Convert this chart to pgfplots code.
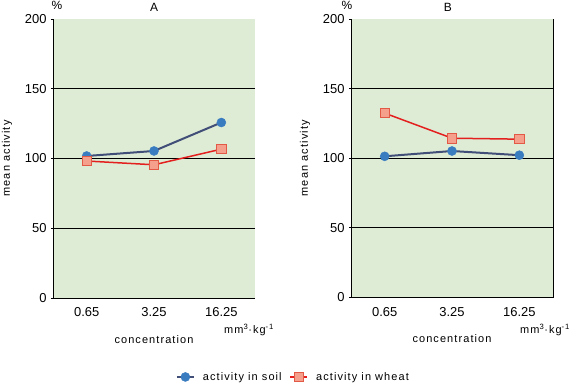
\documentclass[border=0pt]{standalone}
\usepackage{fontspec}
\setmainfont{Liberation Sans}
\newfontfamily\lsp[LetterSpace=10]{Liberation Sans}
\usepackage{pgfplots}
\pgfplotsset{compat=1.18}
\definecolor{bgcol}{RGB}{222,236,214}
\definecolor{soilline}{RGB}{64,78,120}
\definecolor{soilmark}{RGB}{58,124,192}
\definecolor{wheatline}{RGB}{228,32,30}
\definecolor{wheatfill}{RGB}{244,160,140}
\definecolor{wheatdraw}{RGB}{226,90,70}
\pgfplotsset{
  panel/.style={
    scale only axis,
    width=202bp, height=279bp,
    xmin=-0.5, xmax=2.5, ymin=0, ymax=200,
    xtick={0,1,2}, xticklabels={0.65,3.25,16.25},
    ytick={0,50,100,150,200},
    extra y ticks={50,100,150},
    extra y tick style={grid=major, yticklabels={}, major tick length=0pt},
    grid style={black, line width=0.8bp},
    axis x line*=bottom, axis y line*=left,
    axis line style={black, line width=1bp},
    x tick style={draw=none},
    y tick style={black, line width=0.8bp},
    tick align=outside, major tick length=2bp,
    axis background/.style={fill=bgcol},
    tick label style={font=\fontsize{13}{13}\selectfont},
    /pgf/number format/assume math mode=true,
    xticklabel style={yshift=-4bp},
    yticklabel style={xshift=-1bp},
    ylabel={\lsp mean activity},
    ylabel style={font=\fontsize{11}{11}\selectfont, at={(axis description cs:-0.185,0.5)}, anchor=south},
    xlabel={\lsp concentration},
    xlabel style={font=\fontsize{11}{11}\selectfont, at={(axis description cs:0.5,-0.148)}, anchor=center},
    clip=false,
  },
  soil/.style={soilline, line width=2bp, mark=*, mark size=4.5bp, mark options={fill=soilmark, draw=soilmark, line width=0.5bp}},
  wheat/.style={wheatline, line width=1.5bp, mark=square*, mark size=4.6bp, mark options={fill=wheatfill, draw=wheatdraw, line width=0.6bp}},
}
\begin{document}
\begin{tikzpicture}
\path[use as bounding box] (0,0) rectangle (569bp,-385bp);
\begin{axis}[panel, at={(53bp,-298bp)}, anchor=south west,
  legend columns=2,
  legend style={at={(axis description cs:1.19,-0.283)}, anchor=center, draw=none, fill=none,
    font=\fontsize{11}{11}\selectfont\lsp, column sep=6bp},
  ]
\addplot[soil] coordinates {(0,101.8) (1,105.4) (2,125.8)};
\addlegendentry{activity in soil}
\addplot[wheat] coordinates {(0,98.2) (1,95.5) (2,106.7)};
\addlegendentry{activity in wheat}
\node[font=\fontsize{12}{12}\selectfont] at (axis description cs:0.5,1.04) {A};
\node[font=\fontsize{12}{12}\selectfont] at (axis description cs:0.02,1.05) {\%};
\node[font=\fontsize{11}{11}\selectfont\lsp, anchor=west] at (axis description cs:0.83,-0.115) {mm\textsuperscript{3}·kg\textsuperscript{-1}};
\end{axis}
\begin{axis}[panel, at={(351bp,-297.5bp)}, anchor=south west, height=278.5bp]
\addplot[soil] coordinates {(0,101.4) (1,105.2) (2,102.2)};
\addplot[wheat] coordinates {(0,132.4) (1,114.4) (2,113.7)};
\draw[black, line width=1bp] (rel axis cs:1,0) -- (rel axis cs:1,1);
\node[font=\fontsize{12}{12}\selectfont] at (axis description cs:0.48,1.04) {B};
\node[font=\fontsize{12}{12}\selectfont] at (axis description cs:-0.02,1.05) {\%};
\node[font=\fontsize{11}{11}\selectfont\lsp, anchor=west] at (axis description cs:0.82,-0.115) {mm\textsuperscript{3}·kg\textsuperscript{-1}};
\end{axis}
\end{tikzpicture}
\end{document}
